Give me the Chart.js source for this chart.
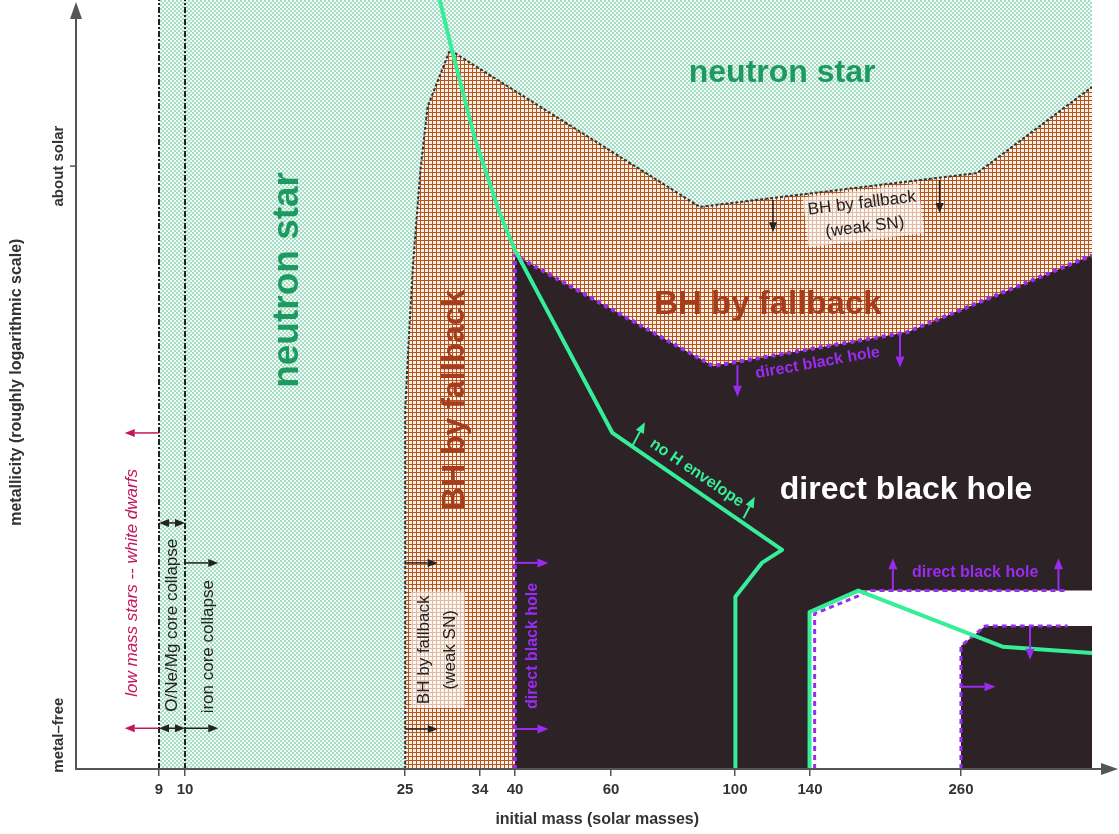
<!DOCTYPE html>
<html>
<head>
<meta charset="utf-8">
<script src="https://cdn.jsdelivr.net/npm/chart.js@4.4.1/dist/chart.umd.min.js"></script>
<style>
  body { margin: 0; background: #fff; }
  #wrap { width: 1119px; height: 834px; }
</style>
</head>
<body>
<div id="wrap"><canvas id="c"></canvas></div>
<script>
// Achsen: beide Achsen sind schematisch (0..100 Einheiten), x-Ticks tragen die Massen
const massTicks = ['9', '10', '25', '34', '40', '60', '100', '140', '260'];
const massTickAt = [8.17, 10.73, 32.38, 39.76, 43.21, 52.66, 64.86, 72.24, 87.11];
const metalTicks = ['metal\u2013free', 'about solar'];
const metalTickAt = [4.4, 78.4];

// Gebiete (Polygone)
const neutronX = [8.2, 100, 100, 8.2];
const neutronY = [0, 0, 100, 100];
const fallbackX = [32.4, 32.4, 32.8, 33.2, 33.9, 34.6, 36.8, 61.4, 88.7, 100, 100];
const fallbackY = [0, 46.7, 57.1, 66.2, 77.9, 86.1, 93.5, 73.1, 77.5, 88.7, 0];
const directX = [43.2, 62.7, 81.8, 94.2, 100, 100, 43.2];
const directY = [66.8, 52.4, 56.8, 63.6, 66.8, 0, 0];
const pisnX = [72.2, 72.2, 77.0, 100, 100, 89.5, 87.1, 87.1];
const pisnY = [0, 20.4, 23.2, 23.2, 18.6, 18.6, 16.0, 0];

// Grenzlinien
const directEdgeX = [43.2, 43.2, 62.7, 81.8, 94.2, 100];
const directEdgeY = [0, 66.8, 52.4, 56.8, 63.6, 66.8];
const pisnEdge1X = [72.7, 72.7, 77.0, 78.0, 97.6];
const pisnEdge1Y = [0, 20.2, 22.5, 23.2, 23.2];
const pisnEdge2X = [87.1, 87.1, 89.5, 97.6];
const pisnEdge2Y = [0, 16.0, 18.6, 18.6];
const noHX = [35.8, 37.0, 39.3, 41.7, 43.2, 52.8, 69.5, 67.5, 64.9, 64.9];
const noHY = [100, 93.5, 81.8, 72.3, 67.5, 43.7, 28.5, 26.8, 22.4, 0];
const noH2X = [72.2, 72.2, 77.0, 91.2, 100];
const noH2Y = [0, 20.4, 23.2, 15.9, 15.1];
const limitY = [0, 100];

const FONT = "'Liberation Sans', Arial, sans-serif";
const colores = {
    neutron: '#1d9a60',
    fallback: '#a63c1c',
    direct: '#2d2225',
    purple: '#9a2cf0',
    green: '#36ee9a',
    magenta: '#c2185b',
    axis: '#555'
};

// Pfeile (Achseneinheiten)
const arrows = [
    {x1: 8.17, y1: 43.7, x2: 4.8, y2: 43.7, c: colores.magenta},
    {x1: 8.17, y1: 5.3, x2: 4.8, y2: 5.3, c: colores.magenta},
    {x1: 8.17, y1: 32.0, x2: 10.73, y2: 32.0, c: '#222', both: true},
    {x1: 8.17, y1: 5.3, x2: 10.73, y2: 5.3, c: '#222', both: true},
    {x1: 10.73, y1: 26.8, x2: 14.0, y2: 26.8, c: '#222'},
    {x1: 10.73, y1: 5.3, x2: 14.0, y2: 5.3, c: '#222'},
    {x1: 32.4, y1: 26.8, x2: 35.6, y2: 26.8, c: '#222'},
    {x1: 32.4, y1: 5.2, x2: 35.6, y2: 5.2, c: '#222'},
    {x1: 43.2, y1: 26.8, x2: 46.5, y2: 26.8, c: colores.purple, w: 2},
    {x1: 43.2, y1: 5.2, x2: 46.5, y2: 5.2, c: colores.purple, w: 2},
    {x1: 68.6, y1: 74.0, x2: 68.6, y2: 69.8, c: '#222'},
    {x1: 85.0, y1: 76.6, x2: 85.0, y2: 72.3, c: '#222'},
    {x1: 65.1, y1: 52.5, x2: 65.1, y2: 48.4, c: colores.purple, w: 2},
    {x1: 81.1, y1: 56.4, x2: 81.1, y2: 52.2, c: colores.purple, w: 2},
    {x1: 54.8, y1: 42.1, x2: 56.0, y2: 45.1, c: colores.green, w: 2},
    {x1: 65.7, y1: 32.6, x2: 66.8, y2: 35.4, c: colores.green, w: 2},
    {x1: 80.4, y1: 23.2, x2: 80.4, y2: 27.4, c: colores.purple, w: 2},
    {x1: 96.7, y1: 23.2, x2: 96.7, y2: 27.4, c: colores.purple, w: 2},
    {x1: 93.9, y1: 18.6, x2: 93.9, y2: 14.2, c: colores.purple, w: 2},
    {x1: 87.1, y1: 10.7, x2: 90.5, y2: 10.7, c: colores.purple, w: 2}
];

// Beschriftungen
const notes = [
    {t: ['neutron star'], x: 69.5, y: 90.5, a: 0, f: 'bold 32px', c: colores.neutron},
    {t: ['neutron star'], x: 20.8, y: 63.6, a: -90, f: 'bold 37px', c: colores.neutron},
    {t: ['BH by fallback'], x: 37.3, y: 48.0, a: -90, f: 'bold 32px', c: colores.fallback},
    {t: ['BH by fallback'], x: 68.1, y: 60.3, a: 0, f: 'bold 33px', c: colores.fallback},
    {t: ['direct black hole'], x: 81.7, y: 36.3, a: 0, f: 'bold 32px', c: '#fff'},
    {t: ['direct black hole'], x: 73.0, y: 52.8, a: -10, f: 'bold 16px', c: colores.purple},
    {t: ['direct black hole'], x: 88.5, y: 25.6, a: 0, f: 'bold 16px', c: colores.purple},
    {t: ['direct black hole'], x: 44.9, y: 16.0, a: -90, f: 'bold 16px', c: colores.purple},
    {t: ['no H envelope'], x: 61.1, y: 38.5, a: 34, f: 'bold 16px', c: colores.green},
    {t: ['BH by fallback', '(weak SN)'], x: 77.5, y: 72.0, a: -7, f: '17px', c: '#222', box: 'rgba(255,255,255,0.6)', lh: 24},
    {t: ['BH by fallback', '(weak SN)'], x: 35.6, y: 15.5, a: -90, f: '17px', c: '#222', box: 'rgba(255,255,255,0.6)', lh: 26},
    {t: ['low mass stars -- white dwarfs'], x: 5.5, y: 24.2, a: -90, f: 'italic 17px', c: colores.magenta},
    {t: ['O/Ne/Mg core collapse'], x: 9.45, y: 18.7, a: -90, f: '17px', c: '#222'},
    {t: ['iron core collapse'], x: 13.0, y: 15.9, a: -90, f: '17px', c: '#222'}
];

const ctx = document.getElementById('c').getContext('2d');

function makePattern(size, draw) {
    const tile = document.createElement('canvas');
    tile.width = tile.height = size;
    draw(tile.getContext('2d'));
    return ctx.createPattern(tile, 'repeat');
}

// Muster wie im Original: feines Schachbrett (grün), Gitter (braun)
const neutronFill = makePattern(4, g => {
    g.fillStyle = '#f0faf5';
    g.fillRect(0, 0, 4, 4);
    g.fillStyle = '#a6dcc6';
    g.fillRect(0, 0, 2, 2);
    g.fillRect(2, 2, 2, 2);
});
const fallbackFill = makePattern(4, g => {
    g.fillStyle = '#fbeee3';
    g.fillRect(0, 0, 4, 4);
    g.fillStyle = '#b4541f';
    g.fillRect(0, 0, 4, 1);
    g.fillRect(0, 0, 1, 4);
});

const pts = (xs, ys) => xs.map((v, i) => ({x: v, y: ys[i]}));

function region(label, xs, ys, fill, order) {
    return {label, data: pts(xs, ys), showLine: true, fill: 'shape', backgroundColor: fill,
        borderWidth: 0, pointRadius: 0, order};
}

function edge(label, xs, ys, color, width, dash, order) {
    return {label, data: pts(xs, ys), showLine: true, fill: false, borderColor: color,
        borderWidth: width, borderDash: dash, pointRadius: 0, order,
        borderCapStyle: 'butt', borderJoinStyle: 'round'};
}

function arrowHead(g, x1, y1, x2, y2, len, w) {
    const ang = Math.atan2(y2 - y1, x2 - x1);
    const bx = x2 - len * Math.cos(ang), by = y2 - len * Math.sin(ang);
    g.beginPath();
    g.moveTo(x2, y2);
    g.lineTo(bx + w / 2 * Math.sin(ang), by - w / 2 * Math.cos(ang));
    g.lineTo(bx - w / 2 * Math.sin(ang), by + w / 2 * Math.cos(ang));
    g.closePath();
    g.fill();
}

function drawNote(g, x, y, n) {
    g.save();
    g.translate(x, y);
    g.rotate(n.a * Math.PI / 180);
    g.font = n.f + ' ' + FONT;
    g.textAlign = 'center';
    g.textBaseline = 'middle';
    const lh = n.lh || 0;
    const k = n.t.length;
    if (n.box) {
        const w = Math.max(...n.t.map(s => g.measureText(s).width)) + 8;
        const h = k * lh + 2;
        g.fillStyle = n.box;
        g.fillRect(-w / 2, -h / 2, w, h);
    }
    g.fillStyle = n.c;
    n.t.forEach((s, i) => g.fillText(s, 0, (i - (k - 1) / 2) * lh));
    g.restore();
}

const decor = {
    id: 'decor',
    afterDatasetsDraw(chart) {
        const g = chart.ctx;
        const {x, y} = chart.scales;
        g.save();
        arrows.forEach(ar => {
            const x1 = x.getPixelForValue(ar.x1), y1 = y.getPixelForValue(ar.y1);
            const x2 = x.getPixelForValue(ar.x2), y2 = y.getPixelForValue(ar.y2);
            const len = ar.w ? 11 : 10, wid = ar.w ? 9 : 8;
            const ang = Math.atan2(y2 - y1, x2 - x1);
            g.strokeStyle = ar.c;
            g.fillStyle = ar.c;
            g.lineWidth = ar.w || 1.5;
            g.beginPath();
            g.moveTo(ar.both ? x1 + len * Math.cos(ang) : x1, ar.both ? y1 + len * Math.sin(ang) : y1);
            g.lineTo(x2 - len * Math.cos(ang), y2 - len * Math.sin(ang));
            g.stroke();
            arrowHead(g, x1, y1, x2, y2, len, wid);
            if (ar.both) arrowHead(g, x2, y2, x1, y1, len, wid);
        });
        notes.forEach(n => drawNote(g, x.getPixelForValue(n.x), y.getPixelForValue(n.y), n));
        g.restore();
    },
    afterDraw(chart) {
        const g = chart.ctx;
        const a = chart.chartArea;
        const {x, y} = chart.scales;
        g.save();
        g.strokeStyle = colores.axis;
        g.fillStyle = colores.axis;
        g.lineWidth = 2;
        // y-Achse mit Pfeil
        g.beginPath();
        g.moveTo(a.left, a.bottom + 1);
        g.lineTo(a.left, 16);
        g.stroke();
        arrowHead(g, a.left, 100, a.left, 2, 17, 12);
        // x-Achse mit Pfeil
        g.beginPath();
        g.moveTo(a.left, a.bottom);
        g.lineTo(1104, a.bottom);
        g.stroke();
        arrowHead(g, 1000, a.bottom, 1118, a.bottom, 17, 12);
        // y-Ticks
        g.lineWidth = 1.5;
        g.beginPath();
        g.moveTo(a.left - 6, y.getPixelForValue(metalTickAt[1]));
        g.lineTo(a.left, y.getPixelForValue(metalTickAt[1]));
        g.stroke();
        g.fillStyle = '#333';
        g.textAlign = 'center';
        g.textBaseline = 'middle';
        g.font = 'bold 15px ' + FONT;
        metalTicks.forEach((lab, i) => {
            g.save();
            g.translate(a.left - 17, y.getPixelForValue(metalTickAt[i]));
            g.rotate(-Math.PI / 2);
            g.fillText(lab, 0, 0);
            g.restore();
        });
        g.font = 'bold 16px ' + FONT;
        g.save();
        g.translate(17, y.getPixelForValue(50.3));
        g.rotate(-Math.PI / 2);
        g.fillText('metallicity (roughly logarithmic scale)', 0, 0);
        g.restore();
        g.fillText('initial mass (solar masses)', x.getPixelForValue(51.3), a.bottom + 51);
        g.restore();
    }
};

new Chart(ctx, {
    type: 'scatter',
    data: {
        datasets: [
            edge('9 Msun', [massTickAt[0], massTickAt[0]], limitY, '#222', 2, [6, 2, 2, 2], 1),
            edge('10 Msun', [massTickAt[1], massTickAt[1]], limitY, '#222', 2, [6, 2, 2, 2], 1),
            edge('no H envelope', noHX, noHY, colores.green, 4, [], 2),
            edge('no H envelope 2', noH2X, noH2Y, colores.green, 4, [], 2),
            edge('direct BH edge', directEdgeX, directEdgeY, colores.purple, 4, [4, 4], 3),
            edge('pisn edge 1', pisnEdge1X, pisnEdge1Y, colores.purple, 3, [5, 4], 3),
            edge('pisn edge 2', pisnEdge2X, pisnEdge2Y, colores.purple, 3, [5, 4], 3),
            edge('fallback edge', fallbackX.slice(0, -1), fallbackY.slice(0, -1), '#333', 2, [3, 2], 4),
            region('pair instability', pisnX, pisnY, '#ffffff', 5),
            region('direct black hole', directX, directY, colores.direct, 6),
            region('BH by fallback', fallbackX, fallbackY, fallbackFill, 7),
            region('neutron star', neutronX, neutronY, neutronFill, 8)
        ]
    },
    options: {
        responsive: true,
        maintainAspectRatio: false,
        animation: false,
        events: [],
        layout: {padding: {left: 76, right: 27, top: 0, bottom: 0}},
        plugins: {legend: {display: false}, tooltip: {enabled: false}},
        elements: {line: {tension: 0}},
        scales: {
            x: {
                type: 'linear',
                min: 0,
                max: 100,
                afterBuildTicks: s => { s.ticks = massTickAt.map(v => ({value: v})); },
                afterFit: s => { s.height = 65; },
                ticks: {
                    autoSkip: false,
                    maxRotation: 0,
                    padding: 5,
                    color: '#333',
                    font: {size: 15, weight: 'bold', family: FONT},
                    callback: v => massTicks[massTickAt.indexOf(v)]
                },
                grid: {drawOnChartArea: false, tickLength: 7, color: colores.axis, lineWidth: 1.5},
                border: {display: false}
            },
            y: {type: 'linear', min: 0, max: 100, display: false}
        }
    },
    plugins: [decor]
});
</script>
</body>
</html>
